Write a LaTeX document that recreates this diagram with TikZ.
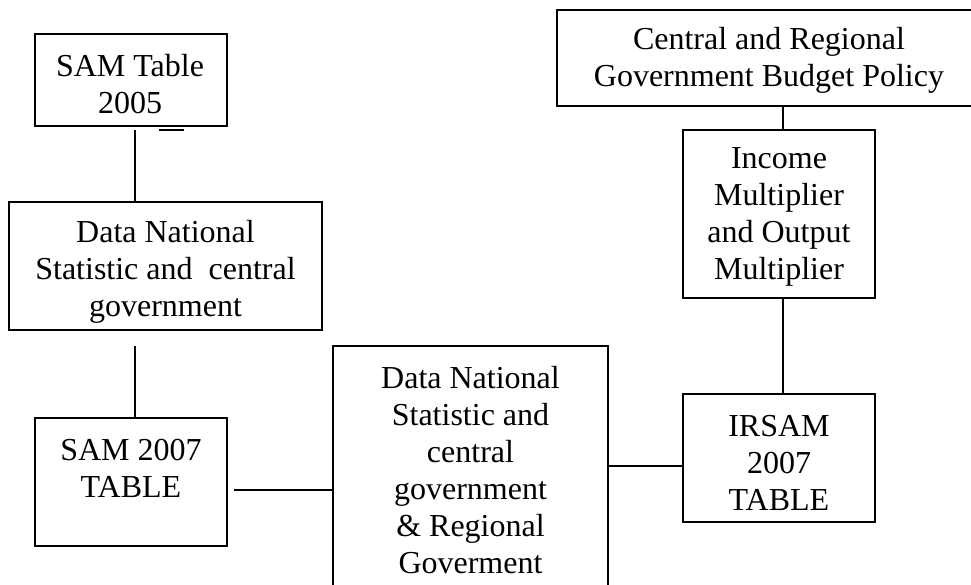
\documentclass[tikz,border=0pt]{standalone}
\usepackage{fontspec}
\setmainfont{Liberation Serif}
\begin{document}
\begin{tikzpicture}[x=1pt,y=-1pt,
  boxst/.style={draw,line width=1.7pt,inner sep=0pt,minimum width=#1},
  txt/.style={inner sep=0pt,align=center,font=\fontsize{32}{37}\selectfont},
  link/.style={line width=1.7pt}]
\useasboundingbox (0,0) rectangle (971,585);
\clip (0,0) rectangle (971,585);
% boxes (center, width, height)
\node[boxst=192pt,minimum height=92pt] (b1) at (131,80) {};
\node[boxst=313pt,minimum height=128pt] (b2) at (165.5,266) {};
\node[boxst=192pt,minimum height=128pt] (b3) at (131,482) {};
\node[boxst=275pt,minimum height=260pt] (b4) at (470.5,476) {};
\node[boxst=192pt,minimum height=128pt] (b5) at (779,458) {};
\node[boxst=192pt,minimum height=168pt] (b6) at (779,214) {};
\node[boxst=424pt,minimum height=96pt] (b7) at (769,58) {};
% texts
\node[txt] (t1) at (130,84) {SAM Table\\2005};
\node[txt] (t2) at (165.5,272) {Data National\\Statistic and\ \ central\\government};
\node[txt] (t3) at (131,468) {SAM 2007\\TABLE};
\node[txt] (t4) at (470.5,470) {Data National\\Statistic and\\central\\government\\\& Regional\\Goverment};
\node[txt] (t5) at (779,463) {IRSAM\\2007\\TABLE};
\node[txt] (t6) at (779,217) {Income\\Multiplier\\and Output\\Multiplier};
\node[txt] (t7) at (769,60) {Central and Regional\\Government Budget Policy};
% connector end points
\coordinate (c1a) at (135,130);
\coordinate (c1b) at (b2.north -| c1a);
\coordinate (c2a) at (135,346);
\coordinate (c2b) at (b3.north -| c2a);
\coordinate (c3a) at (234,490);
\coordinate (c3b) at (b4.west |- c3a);
\coordinate (c4a) at (b4.east |- 0,466);
\coordinate (c4b) at (b5.west |- c4a);
\coordinate (c5a) at (b6.south -| 783,0);
\coordinate (c5b) at (b5.north -| 783,0);
\coordinate (c6a) at (b7.south -| 783,0);
\coordinate (c6b) at (b6.north -| 783,0);
\coordinate (d1) at (159,130);
\coordinate (d2) at (184,130);
\draw[link] (c1a) -- (c1b);
\draw[link] (c2a) -- (c2b);
\draw[link] (c3a) -- (c3b);
\draw[link] (c4a) -- (c4b);
\draw[link] (c5a) -- (c5b);
\draw[link] (c6a) -- (c6b);
\draw[link] (d1) -- (d2);
\end{tikzpicture}
\end{document}
